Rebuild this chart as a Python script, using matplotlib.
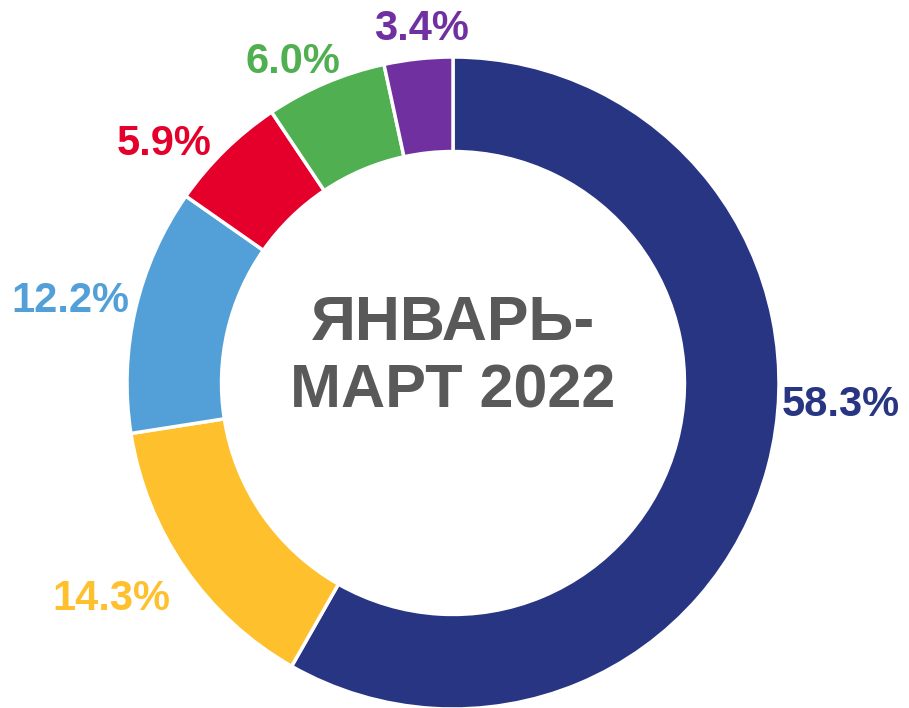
import numpy as np
import matplotlib
matplotlib.use("Agg")
import matplotlib.pyplot as plt

plt.rcParams["font.family"] = ["Liberation Sans", "DejaVu Sans"]

# ── data ──────────────────────────────────────────────────────────────────────
shares = [58.3, 14.3, 12.2, 5.9, 6.0, 3.4]
labels = ["58.3%", "14.3%", "12.2%", "5.9%", "6.0%", "3.4%"]
colors = ["#283583", "#FEC12D", "#53A0D8", "#E4002B", "#50AF50", "#7030A0"]
center_lines = ["ЯНВАРЬ-", "МАРТ 2022"]

# label placement: angle shift from wedge middle (deg), distance in radii
angle_shift = [11.6, -2.3, 1.0, 6.0, 3.5, -1.1]
label_dist = [1.19, 1.24, 1.20, 1.15, 1.10, 1.09]

# ── figure ────────────────────────────────────────────────────────────────────
W, H = 909, 708
fig = plt.figure(figsize=(W / 100, H / 100), dpi=100)
ax = fig.add_axes([0, 0, 1, 1])

cx, cy, R = 453, H - 383, 326
wedges, _ = ax.pie(
    shares, colors=colors, startangle=90, counterclock=False,
    center=(cx, cy), radius=R, frame=True,
    wedgeprops=dict(width=R * 0.29, edgecolor="white", linewidth=2.5),
)
ax.set_xlim(0, W)
ax.set_ylim(0, H)
ax.set_aspect("equal")
ax.axis("off")

for w, lab, col, da, d in zip(wedges, labels, colors, angle_shift, label_dist):
    mid = np.deg2rad((w.theta1 + w.theta2) / 2 + da)
    ax.text(cx + d * R * np.cos(mid), cy + d * R * np.sin(mid), lab,
            color=col, fontsize=30, fontweight="bold", ha="center", va="center")

ax.text(cx, cy + 60, center_lines[0], color="#595959", fontsize=45,
        fontweight="bold", ha="center", va="center")
ax.text(cx, cy - 9, center_lines[1], color="#595959", fontsize=44,
        fontweight="bold", ha="center", va="center")

fig.savefig("out.png", dpi=100)
